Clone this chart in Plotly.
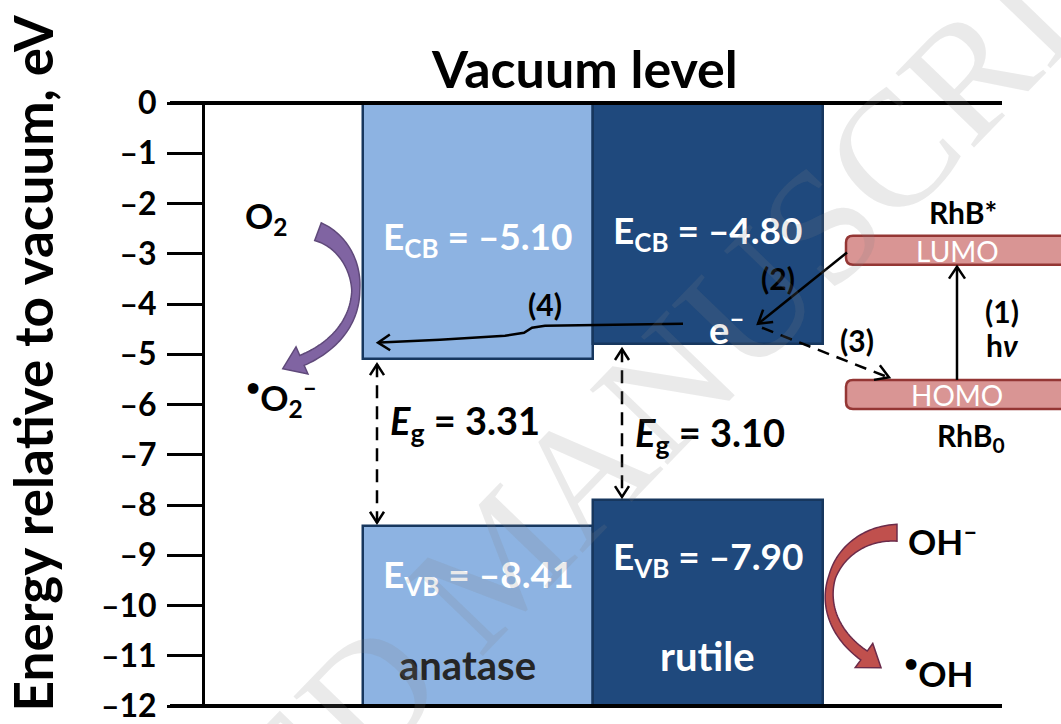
import numpy as np
import plotly.graph_objects as go

# ---- band-edge energies of TiO2 polymorphs (eV relative to vacuum) ----
phases = ["anatase", "rutile"]
phase_pos = [1, 2]
e_cb = [-5.10, -4.80]
e_vb = [-8.41, -7.90]
e_floor = -12

# ---- rhodamine B frontier orbitals (centre of each drawn level, eV) ----
rhb_names = ["LUMO", "HOMO"]
rhb_energy = [-2.93, -5.80]
rhb_half = 0.29

# ---- y-axis ticks ----
y_ticks = list(range(0, -13, -1))
y_tick_text = ["0"] + ["\u2013%d" % k for k in range(1, 13)]

# ---- colours / fonts ----
LIGHT = "#8DB3E2"
DARK = "#1F497D"
EDGE = "#17375E"
FONT = "Lato"

# ---- canvas geometry ----
W, H = 1061, 724
ML, MR, MT, MB = 205, 0, 103, 12
PW, PH = W - ML - MR, H - MT - MB
X_MIN, PX_UNIT = -0.185, 230.0
X_MAX = X_MIN + PW / PX_UNIT


def px_x(x):
    return ML + (x - X_MIN) * PX_UNIT


def px_y(e):
    return MT + (0 - e) / (0 - e_floor) * PH


def paper(px, py):
    return (px - ML) / PW, (H - MB - py) / PH


def path_str(points, close=False):
    s = ""
    for i, (a, b) in enumerate(points):
        u, v = paper(a, b)
        s += ("M" if i == 0 else "L") + f"{u:.5f},{v:.5f} "
    return s + ("Z" if close else "")


def chevron(tip, direction, length=11, half=7):
    d = np.array(direction, float)
    d /= np.linalg.norm(d)
    n = np.array([-d[1], d[0]])
    t = np.array(tip, float)
    a = t - d * length + n * half
    b = t - d * length - n * half
    return path_str([a, t, b])


def thick_arrow(P, widths, head_len, head_half, n=80):
    P = np.array(P, float)
    t = np.linspace(0, 1, n)[:, None]
    pts = ((1 - t) ** 3) * P[0] + 3 * ((1 - t) ** 2) * t * P[1] + 3 * (1 - t) * t ** 2 * P[2] + t ** 3 * P[3]
    der = 3 * ((1 - t) ** 2) * (P[1] - P[0]) + 6 * (1 - t) * t * (P[2] - P[1]) + 3 * t ** 2 * (P[3] - P[2])
    der /= np.linalg.norm(der, axis=1)[:, None]
    nrm = np.column_stack([-der[:, 1], der[:, 0]])
    w = np.interp(t[:, 0], [0, 0.5, 1], widths)[:, None] / 2
    left = pts + nrm * w
    right = pts - nrm * w
    end, d, ne = pts[-1], der[-1], nrm[-1]
    tip = end + d * head_len
    poly = list(left) + [end + ne * head_half, tip, end - ne * head_half] + list(right[::-1])
    return path_str(poly, close=True)


fig = go.Figure()

# conduction bands (vacuum level down to E_CB)
fig.add_trace(go.Bar(
    x=phase_pos, y=[-v for v in e_cb], base=e_cb, width=1,
    marker=dict(color=[LIGHT, DARK], line=dict(color=EDGE, width=2.5)),
    hoverinfo="skip", showlegend=False))
# valence bands (E_VB down to the axis floor)
fig.add_trace(go.Bar(
    x=phase_pos, y=[v - e_floor for v in e_vb], base=[e_floor] * len(e_vb), width=1,
    marker=dict(color=[LIGHT, DARK], line=dict(color=EDGE, width=2.5)),
    hoverinfo="skip", showlegend=False))

shapes = []
annotations = []


def ann(px, py, text, size=20, color="black", bold=True, **kw):
    u, v = paper(px, py)
    annotations.append(dict(
        x=u, y=v, xref="paper", yref="paper", text=text, showarrow=False,
        xanchor=kw.pop("xanchor", "center"), yanchor=kw.pop("yanchor", "middle"),
        font=dict(family=kw.pop("family", FONT), size=size, color=color,
                  weight="bold" if bold else "normal"), **kw))


def line_path(points, width=2.5, dash=None):
    ln = dict(color="black", width=width)
    if dash:
        ln["dash"] = dash
    shapes.append(dict(type="path", xref="paper", yref="paper", path=points, line=ln))


# vacuum level and bottom baseline
for py in (MT, H - MB):
    u0, v0 = paper(170, py)
    u1, _ = paper(1002, py)
    shapes.append(dict(type="line", xref="paper", yref="paper", x0=u0, x1=u1, y0=v0, y1=v0,
                       line=dict(color="black", width=4)))

# RhB levels as rounded bars
for name, e in zip(rhb_names, rhb_energy):
    top, bot = px_y(e + rhb_half), px_y(e - rhb_half)
    x0, x1, r = 846, 1075, 7
    u0, v0 = paper(x0, bot)
    u1, v1 = paper(x1, top)
    ru = r / PW
    rv = r / PH
    p = (f"M{u0 + ru},{v1} L{u1},{v1} L{u1},{v0} L{u0 + ru},{v0} "
         f"Q{u0},{v0} {u0},{v0 + rv} L{u0},{v1 - rv} Q{u0},{v1} {u0 + ru},{v1} Z")
    shapes.append(dict(type="path", xref="paper", yref="paper", path=p,
                       fillcolor="#D99594", line=dict(color="#943634", width=2.5)))
    ann(957, (top + bot) / 2 + 1, name, size=28, color="white", bold=False)

# band-gap dashed double arrows
gap_x = [377, 622]
for gx, cb, vb in zip(gap_x, e_cb, e_vb):
    y_top, y_bot = px_y(cb) + 5, px_y(vb) - 3
    u, v0 = paper(gx, y_top)
    _, v1 = paper(gx, y_bot)
    shapes.append(dict(type="line", xref="paper", yref="paper", x0=u, x1=u, y0=v0, y1=v1,
                       line=dict(color="black", width=2.5, dash="13px,8px")))
    line_path(chevron((gx, y_top), (0, -1)))
    line_path(chevron((gx, y_bot), (0, 1)))

# (4) electron transfer rutile CB -> anatase CB
line_path(path_str([(683, 326), (545, 328), (532, 330), (524, 335), (505, 338), (440, 342), (380, 345)]))
line_path(chevron((378, 345), (-1, 0.02), 12, 8))
# (2) injection LUMO -> rutile CB
line_path(path_str([(847, 254), (758, 326)]))
line_path(chevron((758, 326), (-90, 72), 13, 8))
# (3) back transfer to HOMO (dashed)
line_path(path_str([(762, 330), (888, 380)]), dash="12px,8px")
line_path(chevron((889, 380), (126, 50), 13, 8))
# (1) photo-excitation HOMO -> LUMO
h_top = px_y(rhb_energy[1] + rhb_half)
l_bot = px_y(rhb_energy[0] - rhb_half)
line_path(path_str([(957, h_top), (957, l_bot + 2)]))
line_path(chevron((957, l_bot + 2), (0, -1), 12, 8))

# curved reaction arrows
shapes.append(dict(type="path", xref="paper", yref="paper",
                   path=thick_arrow([(318, 233), (364, 250), (378, 330), (302, 363)], [19, 8, 11], 21, 15),
                   fillcolor="#8064A2", line=dict(color="#5F497A", width=1.5)))
shapes.append(dict(type="path", xref="paper", yref="paper",
                   path=thick_arrow([(897, 537), (832, 537), (800, 615), (864, 661)], [17, 7, 11], 21, 15),
                   fillcolor="#C0504D", line=dict(color="#6B2B4A", width=1.5)))

# ---- text ----
ann(584, 68, "Vacuum level", size=52)
ann(32, 366, "Energy relative to vacuum, eV", size=53, textangle=-90)

cb_label_y = [240, 234]
vb_label_y = [581, 563]
name_y = [671, 661]
name_col = ["#262626", "white"]
gap_label_y = [426, 438]
for i, xp in enumerate(phase_pos):
    cx = px_x(xp)
    ann(cx, cb_label_y[i], "E<sub>CB</sub> = \u2013%.2f" % -e_cb[i], size=37, color="white")
    ann(cx, vb_label_y[i], "E<sub>VB</sub> = \u2013%.2f" % -e_vb[i], size=37, color="white")
    ann(cx - (10 if i == 0 else 0), name_y[i], phases[i], size=40, color=name_col[i])
    ann(gap_x[i] + 11, gap_label_y[i], "<i>E</i><sub>g</sub> = %.2f" % (e_cb[i] - e_vb[i]),
        size=38, xanchor="left")

ann(727, 329, "e<sup>\u2013</sup>", size=38, color="white")
ann(545, 306, "(4)", size=30)
ann(778, 280, "(2)", size=30)
ann(857, 342, "(3)", size=30)
ann(1002, 313, "(1)", size=30)
ann(1002, 347, "h<i>\u03bd</i>", size=30)
ann(963, 213, "RhB*", size=30)
ann(971, 440, "RhB<sub>0</sub>", size=30)
ann(266, 219, "O<sub>2</sub>", size=35)
ann(281, 400, "<sup>\u2022</sup>O<sub>2</sub><sup>\u2013</sup>", size=35)
ann(942, 543, "OH<sup>\u2013</sup>", size=35)
ann(938, 677, "<sup>\u2022</sup>OH", size=35)

# diagonal manuscript stamp
ann(498, 565, "ACCEPTED MANUSCRIPT", size=165, color="rgba(128,128,128,0.17)", bold=False,
    family="Liberation Serif", textangle=-46)

fig.update_layout(
    width=W, height=H, margin=dict(l=ML, r=MR, t=MT, b=MB, pad=0),
    paper_bgcolor="white", plot_bgcolor="white", barmode="overlay", bargap=0,
    showlegend=False, shapes=shapes, annotations=annotations,
    xaxis=dict(range=[X_MIN, X_MAX], visible=False, fixedrange=True),
    yaxis=dict(range=[e_floor, 0], tickvals=y_ticks, ticktext=y_tick_text, ticks="outside",
               ticklen=35, tickwidth=3, tickcolor="black", showline=True, linewidth=3,
               linecolor="black", showgrid=False, zeroline=False, ticklabelstandoff=4,
               ticklabeloverflow="allow",
               tickfont=dict(family=FONT, size=32, color="black", weight="bold"), fixedrange=True),
)

fig.write_html("out.html", config={"displayModeBar": False})
